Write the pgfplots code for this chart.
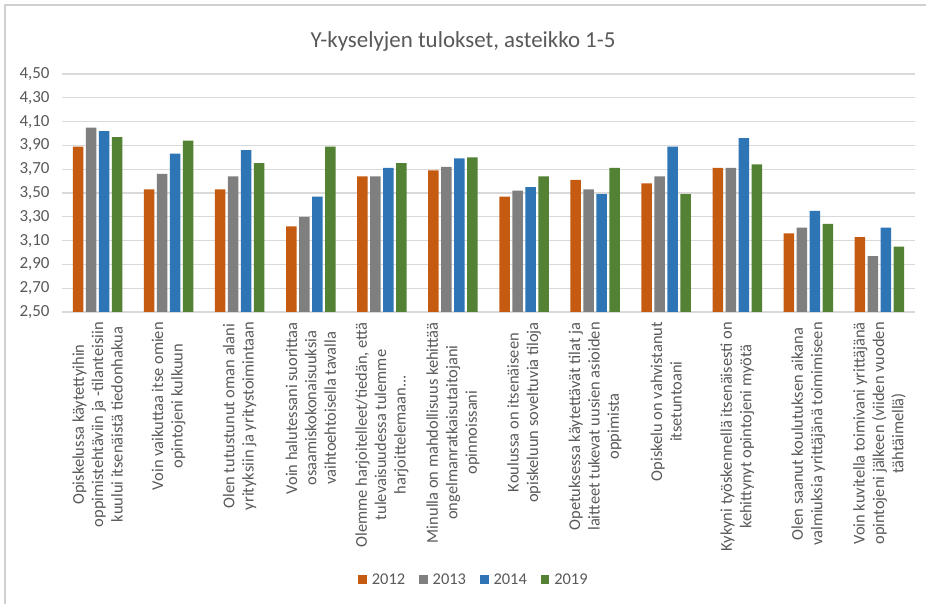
\documentclass[border=0pt]{standalone}
\usepackage{fontspec}
\setmainfont{Carlito}
\usepackage{pgfplots}
\pgfplotsset{compat=1.18}
\definecolor{cA}{HTML}{C55A11}
\definecolor{cB}{HTML}{7F7F7F}
\definecolor{cC}{HTML}{2E75B6}
\definecolor{cD}{HTML}{548235}
\definecolor{txt}{HTML}{595959}
\definecolor{gridc}{HTML}{D9D9D9}
\definecolor{framec}{HTML}{D0D0D0}
\begin{document}
\begin{tikzpicture}[x=1bp,y=1bp]
\useasboundingbox (0,0) rectangle (926,604);
\fill[white] (0,0) rectangle (926,604);
\draw[framec, line width=1.5bp] (5,-5) -- (5,599) -- (935,599);
\node[text=txt, font=\fontsize{23}{27}\selectfont, anchor=base] at (463,556) {Y-kyselyjen tulokset, asteikko 1-5};
\begin{axis}[
  at={(62bp,292bp)}, anchor=south west,
  scale only axis, width=853bp, height=238bp,
  ybar=2.5bp, bar width=10.5bp,
  xmin=-0.5, xmax=11.5, ymin=2.5, ymax=4.5,
  ytick={2.5,2.7,2.9,3.1,3.3,3.5,3.7,3.9,4.1,4.3,4.5},
  xtick={0,1,2,3,4,5,6,7,8,9,10,11},
  xticklabels={
    {Opiskelussa käytettyihin\\oppimistehtäviin ja -tilanteisiin\\kuului itsenäistä tiedonhakua},
    {Voin vaikuttaa itse omien\\opintojeni kulkuun},
    {Olen tutustunut oman alani\\yrityksiin ja yritystoimintaan},
    {Voin halutessani suorittaa\\osaamiskokonaisuuksia\\vaihtoehtoisella tavalla},
    {Olemme harjoitelleet/tiedän, että\\tulevaisuudessa tulemme\\harjoittelemaan.{}.{}.},
    {Minulla on mahdollisuus kehittää\\ongelmanratkaisutaitojani\\opinnoissani},
    {Koulussa on itsenäiseen\\opiskeluun soveltuvia tiloja},
    {Opetuksessa käytettävät tilat ja\\laitteet tukevat uusien asioiden\\oppimista},
    {Opiskelu on vahvistanut\\itsetuntoani},
    {Kykyni työskennellä itsenäisesti on\\kehittynyt opintojeni myötä},
    {Olen saanut koulutuksen aikana\\valmiuksia yrittäjänä toimimiseen},
    {Voin kuvitella toimivani yrittäjänä\\opintojeni jälkeen (viiden vuoden\\tähtäimellä)}},
  x tick label style={rotate=90, anchor=east, align=center, text=txt,
    font=\fontsize{16.5}{19.5}\selectfont, inner sep=0pt, xshift=-10bp},
  y tick label style={text=txt, font=\fontsize{17}{20}\selectfont, xshift=-9bp},
  yticklabel style={/pgf/number format/fixed, /pgf/number format/fixed zerofill,
    /pgf/number format/precision=2, /pgf/number format/use comma,
    /pgf/number format/assume math mode=true},
  major tick length=0pt,
  ymajorgrids, grid style={gridc, line width=1.3bp},
  axis x line*=bottom, axis y line*=left,
  x axis line style={gridc, line width=1.3bp, -},
  y axis line style={draw=none},
  legend style={at={(0.483,-1.126)}, anchor=center, draw=none, fill=none,
    font=\fontsize{16.5}{19.5}\selectfont, text=txt, legend columns=4,
    /tikz/every odd column/.append style={column sep=3bp},
    /tikz/every even column/.append style={column sep=12bp}},
  legend image code/.code={\fill[#1] (0bp,-4bp) rectangle (8.5bp,4.5bp);},
]
\addplot[fill=cA, draw=none] coordinates {(0,3.89) (1,3.53) (2,3.53) (3,3.22) (4,3.64) (5,3.69) (6,3.47) (7,3.61) (8,3.58) (9,3.71) (10,3.16) (11,3.13)};
\addplot[fill=cB, draw=none] coordinates {(0,4.05) (1,3.66) (2,3.64) (3,3.30) (4,3.64) (5,3.72) (6,3.52) (7,3.53) (8,3.64) (9,3.71) (10,3.21) (11,2.97)};
\addplot[fill=cC, draw=none] coordinates {(0,4.02) (1,3.83) (2,3.86) (3,3.47) (4,3.71) (5,3.79) (6,3.55) (7,3.49) (8,3.89) (9,3.96) (10,3.35) (11,3.21)};
\addplot[fill=cD, draw=none] coordinates {(0,3.97) (1,3.94) (2,3.75) (3,3.89) (4,3.75) (5,3.80) (6,3.64) (7,3.71) (8,3.49) (9,3.74) (10,3.24) (11,3.05)};
\legend{2012,2013,2014,2019}
\end{axis}
\end{tikzpicture}
\end{document}
